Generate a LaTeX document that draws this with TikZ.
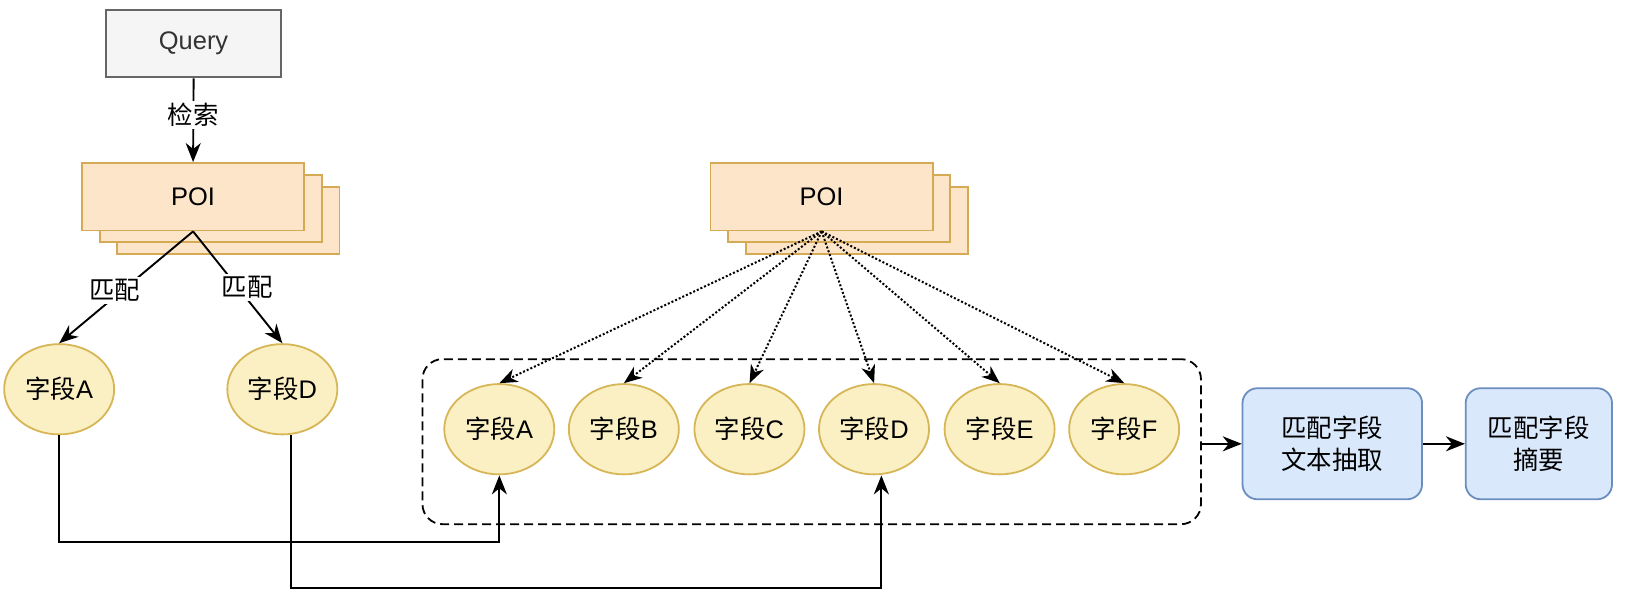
\documentclass[tikz,border=0pt]{standalone}
\usepackage{fontspec}
\setmainfont{Liberation Sans}
\newfontfamily\cjk{Noto Sans CJK SC}
\usetikzlibrary{arrows.meta,calc,shapes.geometric}
\definecolor{qfill}{HTML}{F5F5F5}
\definecolor{qline}{HTML}{666666}
\definecolor{qtext}{HTML}{333333}
\definecolor{pfill}{HTML}{FDE5C9}
\definecolor{pline}{HTML}{D5AA55}
\definecolor{efill}{HTML}{FBF0C4}
\definecolor{eline}{HTML}{D6B656}
\definecolor{bfill}{HTML}{DAE8FC}
\definecolor{bline}{HTML}{6C8EBF}
\tikzset{
  txt/.style={font=\fontsize{24.5}{30}\selectfont},
  querybox/.style={txt, draw=qline, fill=qfill, line width=1.8pt, text=qtext, minimum width=169pt, minimum height=65pt, inner sep=0pt},
  poibox/.style={txt, draw=pline, fill=pfill, line width=1.8pt, minimum width=214pt, minimum height=65pt, inner sep=0pt},
  field/.style={txt, ellipse, draw=eline, fill=efill, line width=1.8pt, minimum width=106pt, minimum height=87pt, inner sep=0pt},
  procbox/.style={txt, draw=bline, fill=bfill, line width=1.8pt, rounded corners=15pt, minimum height=107pt, align=center, inner sep=0pt},
  frame/.style={draw, dashed, dash pattern=on 9pt off 5pt, line width=1.8pt, rounded corners=20pt, minimum width=750pt, minimum height=159pt},
  arr/.style={line width=1.9pt, -{Stealth[length=19pt,width=15pt,inset=6pt]}},
  dotarr/.style={line width=2pt, dotted, -{Stealth[length=18pt,width=14pt,inset=5.5pt]}},
  lbl/.style={txt, fill=white, inner sep=2pt},
}
\begin{document}
\begin{tikzpicture}[x=1pt,y=-1pt,scale=1.038,every node/.append style={transform shape}]
\useasboundingbox (0,0) rectangle (1568.4,589.6);
% Query
\node[querybox] (query) at (186.5,42) {Query};
% left POI stack
\node[poibox] (poiL3) at (220,212.5) {};
\node[poibox] (poiL2) at (203,201) {};
\node[poibox] (poiL) at (186,189.5) {POI};
% middle POI stack
\node[poibox] (poiM3) at (825.5,212.5) {};
\node[poibox] (poiM2) at (808.5,201) {};
\node[poibox] (poiM) at (791.5,189.5) {POI};
% left fields
\node[field] (fAL) at (57,375) {{\cjk 字段}A};
\node[field] (fDL) at (272,375) {{\cjk 字段}D};
% container
\node[frame] (frame) at (782,425.5) {};
% middle fields
\node[field] (fA) at (481,413.5) {{\cjk 字段}A};
\node[field] (fB) at (601,413.5) {{\cjk 字段}B};
\node[field] (fC) at (722,413.5) {{\cjk 字段}C};
\node[field] (fD) at (842,413.5) {{\cjk 字段}D};
\node[field] (fE) at (963,413.5) {{\cjk 字段}E};
\node[field] (fF) at (1083,413.5) {{\cjk 字段}F};
% process boxes
\node[procbox, minimum width=173pt] (p1) at (1283.5,427.5) {\cjk 匹配字段\\\cjk 文本抽取};
\node[procbox, minimum width=141pt] (p2) at (1482.5,427.5) {\cjk 匹配字段\\\cjk 摘要};
% connectors
\draw[arr] (query.south) -- node[lbl, pos=0.44] {\cjk 检索} (poiL.north);
\draw[arr] (poiL.south) -- node[lbl, pos=0.53, xshift=-7pt] {\cjk 匹配} (fAL.north);
\draw[arr] (poiL.south) -- node[lbl, pos=0.5, xshift=9pt] {\cjk 匹配} (fDL.north);
\foreach \f in {fA,fB,fC,fD,fE,fF}{
  \draw[dotarr] (poiM.south) -- (\f.north);
}
\draw[arr] (fAL.south) -- ++(0,103) -| (fA.south);
\draw[arr] ([xshift=8pt]fDL.south) -- ++(0,147) -| ([xshift=7pt]fD.south);
\draw[arr] (frame.east |- p1.west) -- (p1.west);
\draw[arr] (p1.east) -- (p2.west);
\end{tikzpicture}
\end{document}
